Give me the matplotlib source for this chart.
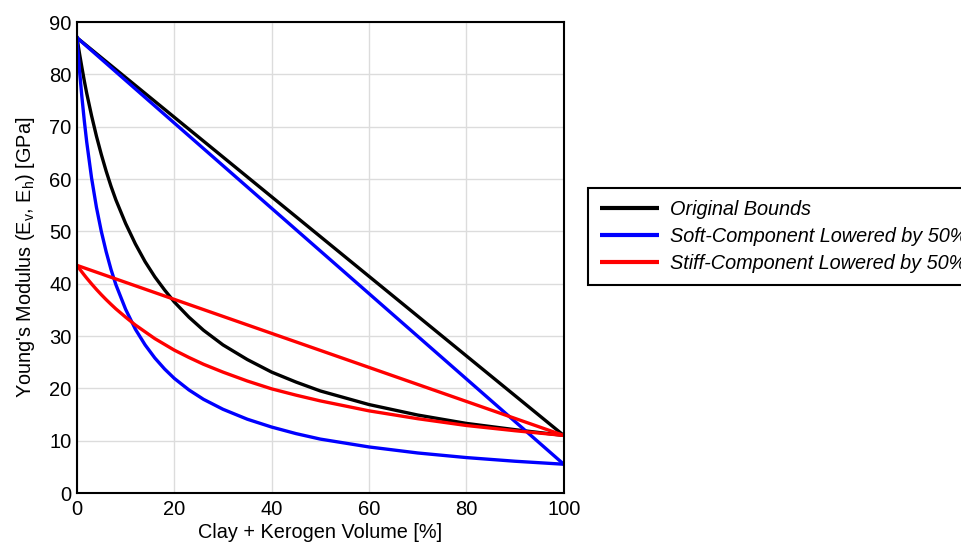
import matplotlib
matplotlib.use("Agg")
import matplotlib.pyplot as plt

plt.rcParams['font.family'] = ['Liberation Sans', 'DejaVu Sans']
plt.rcParams['mathtext.default'] = 'regular'

# Clay + kerogen volume [%]
x_curve = [0, 0.5, 1, 1.5, 2, 3, 4, 5, 6, 7, 8, 10, 12, 14, 16, 18, 20, 23, 26,
           30, 35, 40, 45, 50, 60, 70, 80, 90, 100]
x_line = [0, 100]

# Original bounds
orig_upper = [87.0, 11.0]
orig_lower = [87.0, 84.1, 81.4, 78.8, 76.4, 72.1, 68.2, 64.7, 61.5, 58.6, 56.0, 51.5,
              47.6, 44.2, 41.3, 38.8, 36.5, 33.6, 31.1, 28.3, 25.5, 23.1, 21.2, 19.5,
              16.9, 14.9, 13.3, 12.1, 11.0]
# Soft component lowered by 50%
soft_upper = [87.0, 5.5]
soft_lower = [87.0, 81.0, 75.8, 71.2, 67.1, 60.2, 54.6, 50.0, 46.1, 42.7, 39.8, 35.1,
              31.3, 28.3, 25.8, 23.7, 21.9, 19.7, 17.9, 16.0, 14.1, 12.6, 11.35, 10.3,
              8.8, 7.65, 6.77, 6.07, 5.5]
# Stiff component lowered by 50%
stiff_upper = [43.5, 11.0]
stiff_lower = [43.5, 42.87, 42.25, 41.65, 41.07, 39.96, 38.9, 37.9, 36.95, 36.05, 35.18,
               33.6, 32.1, 30.8, 29.5, 28.4, 27.3, 25.9, 24.6, 23.1, 21.4, 19.9, 18.7,
               17.6, 15.7, 14.2, 12.9, 11.9, 11.0]

labels = ['Original Bounds', 'Soft-Component Lowered by 50%', 'Stiff-Component Lowered by 50%']
colors = ['#000000', '#0000ff', '#ff0000']

fig = plt.figure(figsize=(9.62, 5.45), dpi=100)
ax = fig.add_axes([0.080, 0.0954, 0.506, 0.8642])

lw = 2.4
series = [(orig_upper, orig_lower), (soft_upper, soft_lower), (stiff_upper, stiff_lower)]
handles = []
for (up, lo), c, lab in zip(series, colors, labels):
    h, = ax.plot(x_line, up, color=c, lw=lw, label=lab, solid_capstyle='butt', zorder=3)
    ax.plot(x_curve, lo, color=c, lw=lw, zorder=3, solid_joinstyle='round')
    handles.append(h)

ax.set_xlim(0, 100)
ax.set_ylim(0, 90)
ax.set_xticks(range(0, 101, 20))
ax.set_yticks(range(0, 91, 10))
ax.grid(True, color='#dcdcdc', lw=1.0, zorder=0)
ax.set_axisbelow(True)
ax.tick_params(length=0, labelsize=14.5, colors='black')
ax.tick_params(axis='x', pad=5)
ax.tick_params(axis='y', pad=4)
for s in ax.spines.values():
    s.set_color('black')
    s.set_linewidth(1.5)
    s.set_zorder(4)

ax.set_xlabel('Clay + Kerogen Volume [%]', fontsize=14.3, labelpad=3)
ax.set_ylabel("Young's Modulus (E$_{v}$, E$_{h}$) [GPa]", fontsize=14.3, labelpad=9)

leg = fig.legend(handles=handles, labels=labels, loc='upper left',
                 bbox_to_anchor=(0.6112, 0.655), borderaxespad=0, fancybox=False,
                 framealpha=1, edgecolor='black', prop={'style': 'italic', 'size': 14.3},
                 handlelength=3.0, borderpad=0.6, labelspacing=0.4, handletextpad=0.55)
leg.get_frame().set_linewidth(1.5)
for line in leg.get_lines():
    line.set_linewidth(3.0)

fig.savefig('out.png', dpi=100)
